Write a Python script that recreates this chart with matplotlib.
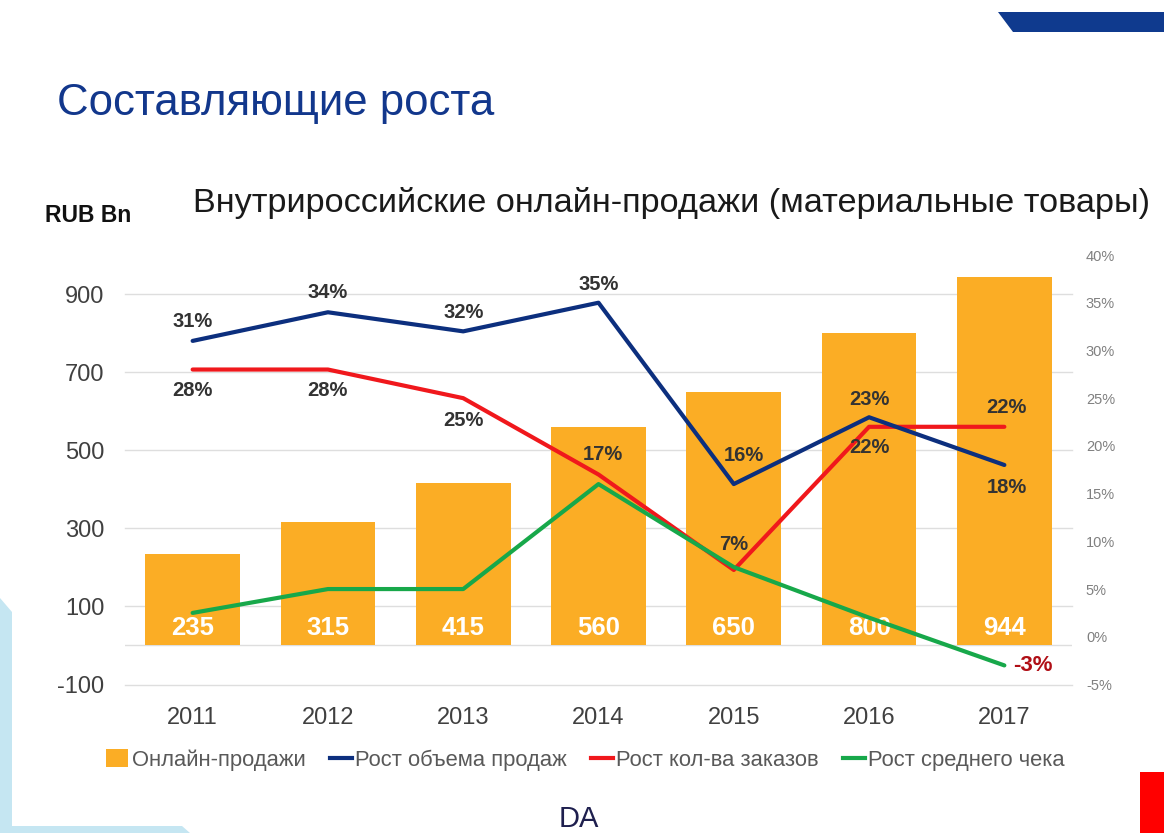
import matplotlib
matplotlib.use("Agg")
import matplotlib.pyplot as plt
from matplotlib.patches import Polygon, Rectangle
from matplotlib.lines import Line2D

plt.rcParams['font.family'] = ['Liberation Sans', 'DejaVu Sans']

# ----------------- DATA -----------------
years = ["2011", "2012", "2013", "2014", "2015", "2016", "2017"]
sales = [235, 315, 415, 560, 650, 800, 944]
growth_volume = [31, 34, 32, 35, 16, 23, 18]
growth_orders = [28, 28, 25, 17, 7, 22, 22]
growth_check = [2.5, 5, 5, 16, 7.3, 2, -3]

left_ticks = [-100, 100, 300, 500, 700, 900]
right_ticks = [-5, 0, 5, 10, 15, 20, 25, 30, 35, 40]

# label offsets in pixels (dx, dy) for the percent labels
vol_offsets = [(0, 19), (0, 20), (0, 19), (0, 18), (10, 29), (0, 18), (3, -23)]
ord_offsets = [(0, -21), (0, -21), (0, -22), (4, 20), (0, 25), (0, -21), (2, 19)]

C_BAR = "#fbad25"
C_BLUE = "#0c2f7e"
C_RED = "#f0181c"
C_GREEN = "#17a84a"
C_LABEL = "#333333"

fig = plt.figure(figsize=(11.64, 8.33), dpi=100)
ax = fig.add_axes([125 / 1164, 1 - 684.5 / 833, 947 / 1164, 429.5 / 833])

x = list(range(len(years)))

# ----------------- BARS -----------------
ax.bar(x, sales, width=0.70, color=C_BAR, zorder=2)
ax.set_xlim(-0.5, 6.5)
ax.set_ylim(-100, 1000)
ax.set_yticks(left_ticks)
ax.set_yticklabels([str(t) for t in left_ticks])
ax.set_xticks(x)
ax.set_xticklabels(years)
ax.tick_params(axis='y', length=0, pad=15, labelsize=17, labelcolor="#404040")
ax.tick_params(axis='x', length=0, pad=16, labelsize=17, labelcolor="#404040")
ax.grid(axis='y', color="#dedede", linewidth=1.0, zorder=0)
for gl in ax.get_ygridlines():
    gl.set_clip_on(False)
ax.axhline(0, color="#dedede", linewidth=1.0, zorder=1)
ax.set_axisbelow(True)
for s in ax.spines.values():
    s.set_visible(False)

for xi, v in zip(x, sales):
    ax.annotate(str(v), (xi, 0), xytext=(0, 17), textcoords="offset pixels",
                ha="center", va="center", color="white", fontsize=18.5,
                fontweight="bold", zorder=3)

# ----------------- LINES -----------------
ax2 = ax.twinx()
ax2.set_ylim(-5, 40)
ax2.set_yticks(right_ticks)
ax2.set_yticklabels([f"{t}%" for t in right_ticks])
ax2.tick_params(axis='y', length=0, pad=10, labelsize=10.5, labelcolor="#808080")
for s in ax2.spines.values():
    s.set_visible(False)

lw = 3.0
ax2.plot(x, growth_volume, color=C_BLUE, linewidth=lw, solid_capstyle="round", zorder=4)
ax2.plot(x, growth_orders, color=C_RED, linewidth=lw, solid_capstyle="round", zorder=3)
ax2.plot(x, growth_check, color=C_GREEN, linewidth=lw, solid_capstyle="round", zorder=3)

for xi, v, off in zip(x, growth_volume, vol_offsets):
    ax2.annotate(f"{v}%", (xi, v), xytext=off, textcoords="offset pixels",
                 ha="center", va="center", color=C_LABEL, fontsize=14.5,
                 fontweight="bold", zorder=5)
for xi, v, off in zip(x, growth_orders, ord_offsets):
    ax2.annotate(f"{v}%", (xi, v), xytext=off, textcoords="offset pixels",
                 ha="center", va="center", color=C_LABEL, fontsize=14.5,
                 fontweight="bold", zorder=5)
ax2.annotate(f"{growth_check[-1]}%", (x[-1], growth_check[-1]), xytext=(9, 0),
             textcoords="offset pixels", ha="left", va="center", color="#b00f16",
             fontsize=16, fontweight="bold", zorder=5)

# ----------------- LEGEND -----------------
handles = [
    Rectangle((0, 0), 1, 1, facecolor=C_BAR, edgecolor="none"),
    Line2D([], [], color=C_BLUE, linewidth=3),
    Line2D([], [], color=C_RED, linewidth=3),
    Line2D([], [], color=C_GREEN, linewidth=3),
]
labels = ["Онлайн-продажи", "Рост объема продаж", "Рост кол-ва заказов", "Рост среднего чека"]
leg = fig.legend(handles, labels, loc="center", bbox_to_anchor=(0.503, 1 - 760 / 833),
                 ncol=4, frameon=False, fontsize=15.8, handlelength=1.0,
                 handleheight=0.9, handletextpad=0.15, columnspacing=1.1)
for t in leg.get_texts():
    t.set_color("#595959")

# ----------------- TITLES -----------------
fig.text(57 / 1164, 1 - 104 / 833, "Составляющие роста", color="#12378c",
         fontsize=31.5, ha="left", va="center")
fig.text(193 / 1164, 1 - 203 / 833, "Внутрироссийские онлайн-продажи (материальные товары)",
         color="#1a1a1a", fontsize=24.7, ha="left", va="center")
fig.text(45 / 1164, 1 - 216 / 833, "RUB Bn", color="#111111", fontsize=16.5,
         fontweight="bold", ha="left", va="center")

# ----------------- DECORATION -----------------
W, H = 1164, 833
def px(xp, yp):
    return (xp / W, 1 - yp / H)

fig.patches.append(Polygon([px(998, 12), px(1164, 12), px(1164, 32), px(1013, 32)],
                           closed=True, transform=fig.transFigure,
                           facecolor="#0f3a8e", edgecolor="none"))
fig.patches.append(Polygon([px(0, 598), px(12, 612), px(12, 826), px(182, 826),
                            px(190, 833), px(0, 833)],
                           closed=True, transform=fig.transFigure,
                           facecolor="#c5e6f2", edgecolor="none"))
fig.patches.append(Rectangle(px(1140, 833), 24 / W, 61 / H, transform=fig.transFigure,
                             facecolor="#ff0000", edgecolor="none"))
fig.text(579 / 1164, 1 - 819 / 833, "DA", color="#1e1f4e", fontsize=21,
         ha="center", va="center")

fig.savefig("out.png", dpi=100)
